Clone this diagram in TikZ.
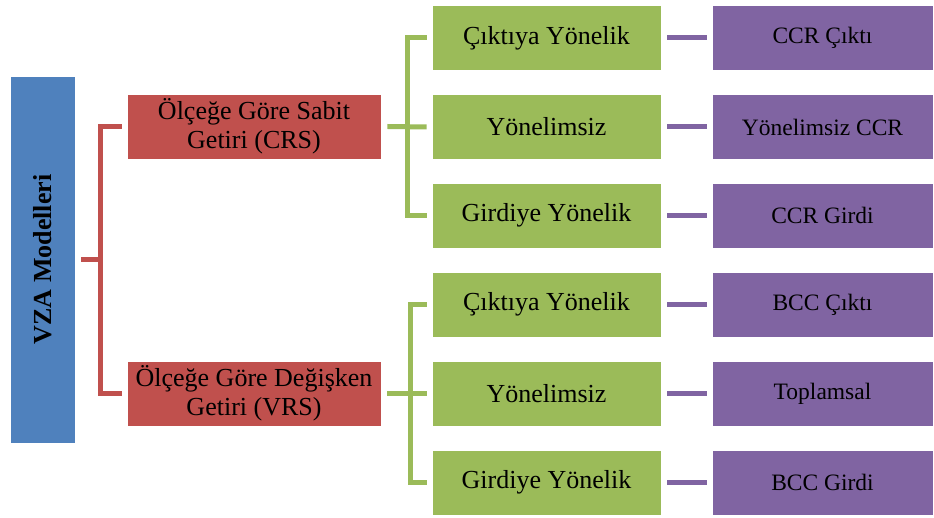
\documentclass[tikz,border=0pt]{standalone}
\usepackage{fontspec}
\setmainfont{Liberation Serif}
\definecolor{vzablue}{HTML}{4F81BD}
\definecolor{vzared}{HTML}{C0504D}
\definecolor{vzagreen}{HTML}{9BBB59}
\definecolor{vzapurple}{HTML}{8064A2}
\begin{document}
\begin{tikzpicture}[x=1pt,y=-1pt,
  basebox/.style={rectangle, inner sep=0pt, draw=white, line width=0.6pt, align=center, text=black},
  rootbox/.style={basebox, fill=vzablue, minimum width=65pt, minimum height=367pt,
    font=\fontsize{26}{29}\selectfont\bfseries},
  rtsbox/.style={basebox, fill=vzared, minimum width=254pt, minimum height=65pt,
    font=\fontsize{26}{29}\selectfont},
  orbox/.style={basebox, fill=vzagreen, minimum width=229pt, minimum height=65pt,
    font=\fontsize{26}{29}\selectfont},
  mdbox/.style={basebox, fill=vzapurple, minimum width=221pt, minimum height=65pt,
    font=\fontsize{23.5}{26}\selectfont},
  redline/.style={draw=vzared, line width=5pt},
  greenline/.style={draw=vzagreen, line width=5pt},
  purpleline/.style={draw=vzapurple, line width=5pt}]
\useasboundingbox (0,0) rectangle (934,518);

% root
\node[rootbox] (root) at (42.5,259.5) {\rotatebox{90}{VZA Modelleri}};

% returns to scale
\node[rtsbox] (crs) at (254,126.5) {Ölçeğe Göre Sabit\\Getiri (CRS)};
\node[rtsbox] (vrs) at (254,393.5) {Ölçeğe Göre Değişken\\Getiri (VRS)};

% orientations
\node[orbox] (g1) at (546.5,38) {Çıktıya Yönelik};
\node[orbox] (g2) at (546.5,127) {Yönelimsiz};
\node[orbox] (g3) at (546.5,215.5) {Girdiye Yönelik};
\node[orbox] (g4) at (546.5,304.5) {Çıktıya Yönelik};
\node[orbox] (g5) at (546.5,393.5) {Yönelimsiz};
\node[orbox] (g6) at (546.5,482.5) {Girdiye Yönelik};

% models
\node[mdbox] (p1) at (822.5,38) {CCR Çıktı};
\node[mdbox] (p2) at (822.5,127) {Yönelimsiz CCR};
\node[mdbox] (p3) at (822.5,215.5) {CCR Girdi};
\node[mdbox] (p4) at (822.5,304.5) {BCC Çıktı};
\node[mdbox] (p5) at (822.5,393.5) {Toplamsal};
\node[mdbox] (p6) at (822.5,482.5) {BCC Girdi};

% junctions
\coordinate (rj) at (100,259.5);
\coordinate (gja) at (407,126.5);
\coordinate (gjb) at (410,393.5);

% root to returns to scale
\draw[redline] ([xshift=6pt]root.east) -- (rj);
\draw[redline] ([xshift=-5pt]crs.west) -| (rj) |- ([xshift=-5pt]vrs.west);

% returns to scale to orientations
\draw[greenline] ([xshift=6pt]crs.east) -- ([xshift=-5pt]g2.west);
\draw[greenline] ([xshift=-5pt]g1.west) -| (gja) |- ([xshift=-5pt]g3.west);
\draw[greenline] ([xshift=6pt]vrs.east) -- ([xshift=-5pt]g5.west);
\draw[greenline] ([xshift=-5pt]g4.west) -| (gjb) |- ([xshift=-5pt]g6.west);

% orientations to models
\foreach \i in {1,...,6}
  \draw[purpleline] ([xshift=6pt]g\i.east) -- ([xshift=-5pt]p\i.west);
\end{tikzpicture}
\end{document}
